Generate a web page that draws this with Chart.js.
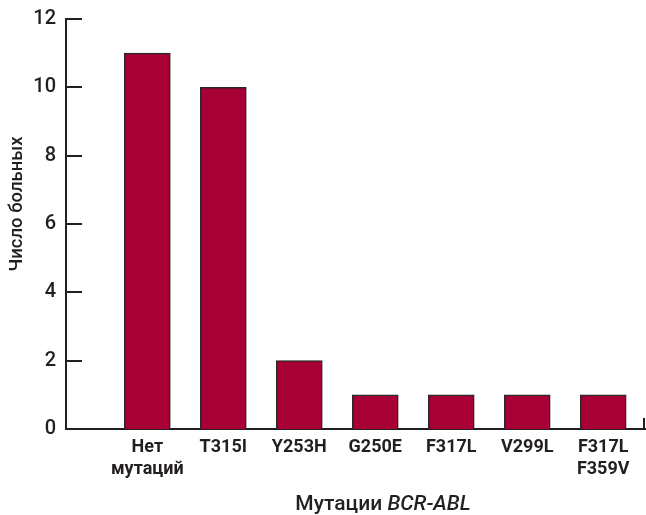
<!DOCTYPE html>
<html>
<head>
<meta charset="utf-8">
<script src="https://cdn.jsdelivr.net/npm/chart.js@4"></script>
<style>
  html, body { margin: 0; padding: 0; background: #fff; }
  #wrap { width: 646px; height: 515px; }
</style>
</head>
<body>
<div id="wrap"><canvas id="mut-chart"></canvas></div>
<script>
// ── Данные ─────────────────────────────────────────────
const categories = [['Нет', 'мутаций'], 'T315I', 'Y253H', 'G250E', 'F317L', 'V299L', ['F317L', 'F359V']];
const patients   = [11, 10, 2, 1, 1, 1, 1];
const yTicks     = [0, 2, 4, 6, 8, 10, 12];
const yTitle     = 'Число больных';
const xTitle     = ['Мутации ', 'BCR-ABL'];

const INK  = '#231f20';
const FONT = "Roboto, 'Liberation Sans', Arial, sans-serif";

// ── Засечки внутрь и подписи осей ──────────────────────
const axisDecor = {
  id: 'axisDecor',
  afterDraw(chart) {
    const { ctx, chartArea: a, scales: { x, y } } = chart;
    ctx.save();
    ctx.strokeStyle = INK;
    ctx.lineWidth = 2;
    yTicks.forEach(v => {
      const py = Math.round(y.getPixelForValue(v));
      ctx.beginPath(); ctx.moveTo(a.left, py); ctx.lineTo(a.left + 16, py); ctx.stroke();
    });
    // маленькая засечка в конце оси X
    ctx.beginPath(); ctx.moveTo(a.right - 1, a.bottom); ctx.lineTo(a.right - 1, a.bottom - 11); ctx.stroke();

    ctx.fillStyle = INK;
    ctx.textBaseline = 'alphabetic';
    // заголовок оси Y
    ctx.save();
    ctx.translate(22, 204);
    ctx.rotate(-Math.PI / 2);
    ctx.textAlign = 'center';
    ctx.font = '500 18.5px ' + FONT;
    ctx.fillText(yTitle, 0, 0);
    ctx.restore();
    // заголовок оси X (курсив для BCR-ABL)
    ctx.font = '500 21px ' + FONT;
    const w1 = ctx.measureText(xTitle[0]).width;
    ctx.font = 'italic 500 21px ' + FONT;
    const w2 = ctx.measureText(xTitle[1]).width;
    const sx = 383 - (w1 + w2) / 2;
    ctx.textAlign = 'left';
    ctx.font = '500 21px ' + FONT;
    ctx.fillText(xTitle[0], sx, 510);
    ctx.font = 'italic 500 21px ' + FONT;
    ctx.fillText(xTitle[1], sx + w1, 510);
    ctx.restore();
  }
};

new Chart(document.getElementById('mut-chart'), {
  type: 'bar',
  data: {
    datasets: [{
      data: patients.map((v, i) => ({ x: i, y: v })),
      backgroundColor: '#a60034',
      borderColor: '#2b2627',
      borderWidth: 1.5,
      borderSkipped: 'bottom',
      barThickness: 46,
    }]
  },
  options: {
    responsive: true, maintainAspectRatio: false, animation: false,
    layout: { padding: { top: 19, right: 1, left: 0, bottom: 0 } },
    plugins: { legend: { display: false }, tooltip: { enabled: false } },
    scales: {
      x: {
        type: 'linear', min: -1.07, max: 6.55, offset: false,
        afterBuildTicks: s => { s.ticks = categories.map((_, i) => ({ value: i })); },
        afterFit: s => { s.height = 86; },
        grid: { display: false, drawTicks: false, offset: false },
        border: { display: true, color: INK, width: 2 },
        ticks: {
          padding: 8, color: INK, autoSkip: false, maxRotation: 0,
          font: { family: FONT, size: 18, weight: 'bold', lineHeight: 1.2 },
          callback: v => categories[v],
        },
      },
      y: {
        min: 0, max: 12,
        afterBuildTicks: s => { s.ticks = yTicks.map(v => ({ value: v })); },
        afterFit: s => { s.width = 66; },
        grid: { display: false, drawTicks: false },
        border: { display: true, color: INK, width: 2 },
        ticks: { padding: 10, color: INK, font: { family: FONT, size: 20, weight: '500', lineHeight: 0.8 } },
      },
    },
  },
  plugins: [axisDecor],
});
</script>
</body>
</html>
